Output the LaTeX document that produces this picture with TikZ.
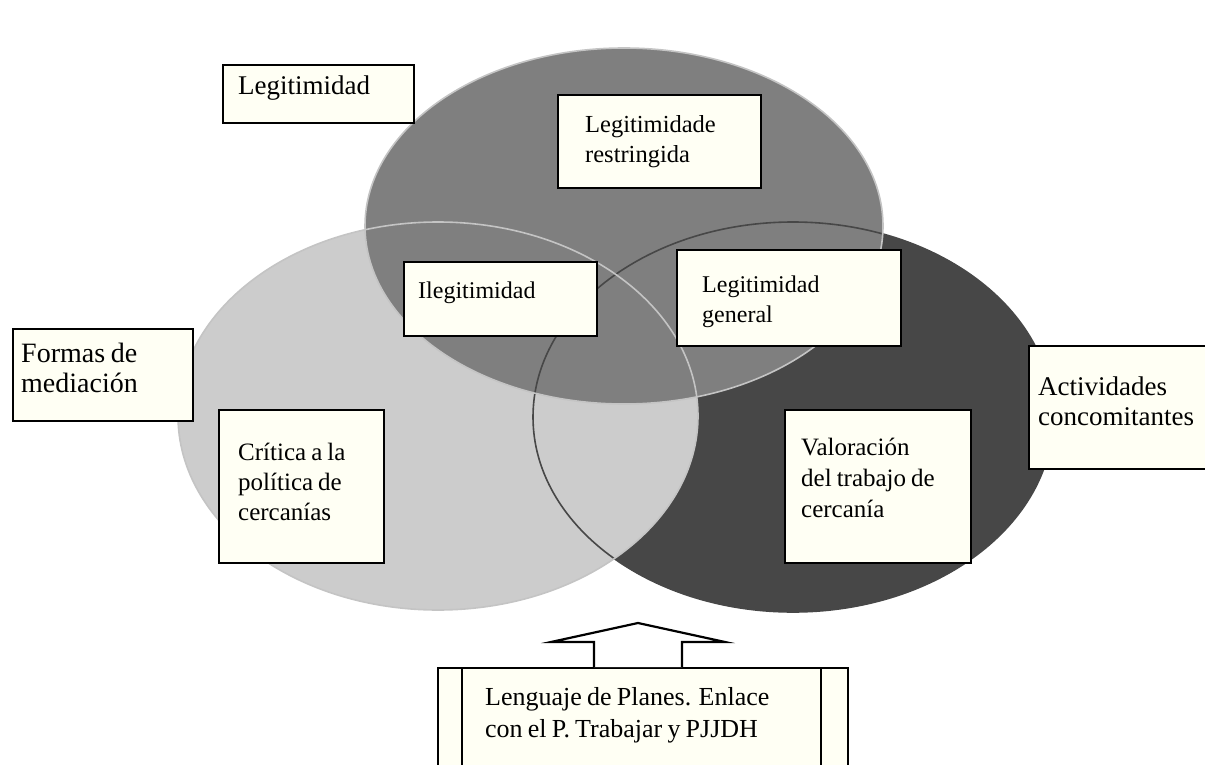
\documentclass[tikz,border=0pt]{standalone}
\usepackage{fontspec}
\setmainfont[WordSpace = 0.8]{Liberation Serif}
\definecolor{grisarriba}{HTML}{7F7F7F}
\definecolor{grisizq}{HTML}{CCCCCC}
\definecolor{grisder}{HTML}{474747}
\definecolor{bordeclaro}{HTML}{C4C4C4}
\definecolor{marfil}{HTML}{FFFFF4}
\newcommand{\tam}[1]{\fontsize{#1}{30}\selectfont}
\tikzset{
    recuadro/.style = {draw = black, line width = 2.2pt, fill = marfil, anchor = north west, inner sep = 0pt},
    texto/.style = {anchor = base west, align = left, inner sep = 0pt, font = \tam{27}},
}
\begin{document}
\begin{tikzpicture}[x = 1pt, y = -1pt]
        \useasboundingbox (0,0) rectangle (1205,765);
        \clip (0,0) rectangle (1205,765);
        % los tres conjuntos
        \begin{scope}
            \fill[grisder] (793,417) ellipse [x radius = 260, y radius = 195];
            \fill[grisizq] (438,416) ellipse [x radius = 260, y radius = 194];
            \fill[grisarriba] (624,226) ellipse [x radius = 259, y radius = 178];
            \draw[line width = 1.6pt, grisder] (793,417) ellipse [x radius = 260, y radius = 195];
            \draw[line width = 1.6pt, bordeclaro] (438,416) ellipse [x radius = 260, y radius = 194];
            \draw[line width = 1.6pt, bordeclaro] (624,226) ellipse [x radius = 259, y radius = 178];
        \end{scope}
        % recuadros (texto anclado en la base de su ultima linea)
        \node[recuadro, minimum width = 191, minimum height = 58] (legitimidad) at (222,64) {};
        \node[texto] (legitimidad-t) at (238,95) {Legitimidad};
        \node[recuadro, minimum width = 203, minimum height = 93] (restringida) at (557,94) {};
        \node[texto, font = \tam{24.5}] (restringida-t) at (585,163) {Legitimidade\\restringida};
        \node[recuadro, minimum width = 193, minimum height = 74] (ilegitimidad) at (403,261) {};
        \node[texto, font = \tam{24}] (ilegitimidad-t) at (418,298) {Ilegitimidad};
        \node[recuadro, minimum width = 224, minimum height = 96] (general) at (676,249) {};
        \node[texto, font = \tam{24}] (general-t) at (702,322) {Legitimidad\\general};
        \node[recuadro, minimum width = 180, minimum height = 92] (formas) at (12,328) {};
        \node[texto, font = \tam{28}] (formas-t) at (21,392) {Formas de\\mediación};
        \node[recuadro, minimum width = 200, minimum height = 123] (actividades) at (1028,345) {};
        \node[texto] (actividades-t) at (1038,425) {Actividades\\concomitantes};
        \node[recuadro, minimum width = 165, minimum height = 153] (critica) at (218,409) {};
        \node[texto, font = \tam{25}] (critica-t) at (238,520) {Crítica a la\\política de\\cercanías};
        \node[recuadro, minimum width = 186, minimum height = 153] (valoracion) at (784,409) {};
        \node[texto, font = \fontsize{25}{31}\selectfont] (valoracion-t) at (801,517) {Valoración\\del trabajo de\\cercanía};
        % planes y flecha
        \node[recuadro, minimum width = 410, minimum height = 140] (planes) at (437,667) {};
        \draw[line width = 2.2pt] (462,667) -- (462,800) (821,667) -- (821,800);
        \node[texto, font = \fontsize{26}{32}\selectfont] (planes-t) at (485,737) {Lenguaje de Planes. Enlace\\con el P. Trabajar y PJJDH};
        \draw[line width = 2.2pt, fill = white, line join = miter] (594,667) -- (594,642) -- (551,642) -- (638,623) -- (725,642) -- (682,642) -- (682,667);
    \end{tikzpicture}
\end{document}
